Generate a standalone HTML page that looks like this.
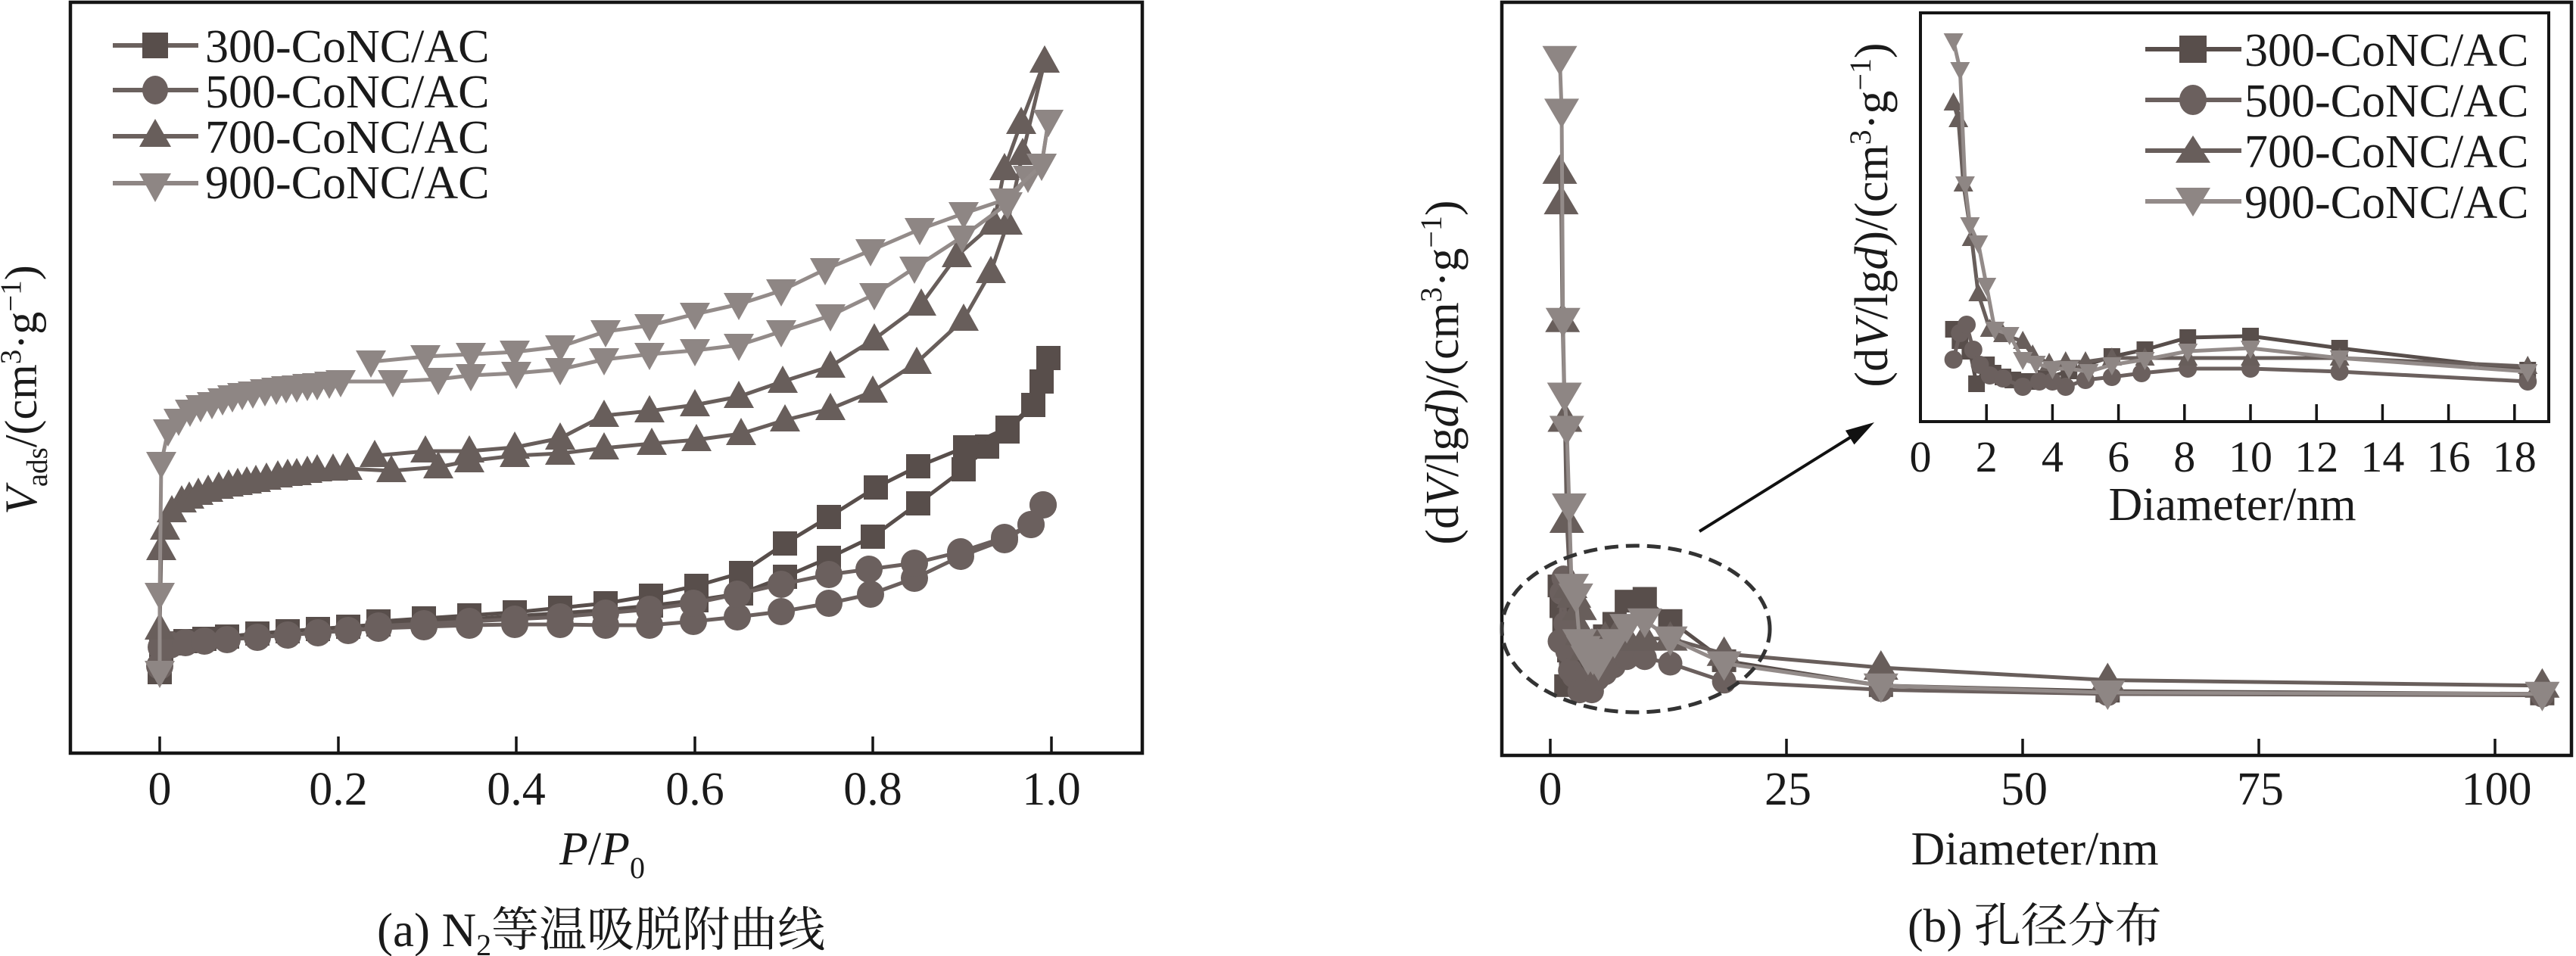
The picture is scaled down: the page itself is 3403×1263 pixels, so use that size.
<!DOCTYPE html>
<html><head><meta charset="utf-8"><style>
html,body{margin:0;padding:0;background:#fff;}
svg{display:block;}
text{font-family:"Liberation Serif","Noto Serif CJK SC",serif;fill:#1a1a1a;}
</style></head><body>
<svg width="3403" height="1263" viewBox="0 0 3403 1263" xmlns="http://www.w3.org/2000/svg">
<defs>
<!-- left plot markers -->
<marker id="Lsq" markerUnits="userSpaceOnUse" markerWidth="100" markerHeight="100" refX="50" refY="50"><rect x="34" y="34" width="32" height="32" fill="#584e4b"/></marker>
<marker id="Lci" markerUnits="userSpaceOnUse" markerWidth="100" markerHeight="100" refX="50" refY="50"><circle cx="50" cy="50" r="18" fill="#6b605e"/></marker>
<marker id="Ltu" markerUnits="userSpaceOnUse" markerWidth="100" markerHeight="100" refX="50" refY="50"><polygon points="50,29 70,65 30,65" fill="#685e5b"/></marker>
<marker id="Ltd" markerUnits="userSpaceOnUse" markerWidth="100" markerHeight="100" refX="50" refY="50"><polygon points="30,35 70,35 50,71" fill="#8e8684"/></marker>
<!-- main right markers -->
<marker id="Msq" markerUnits="userSpaceOnUse" markerWidth="100" markerHeight="100" refX="50" refY="50"><rect x="34" y="35" width="32" height="30" fill="#584e4b"/></marker>
<marker id="Mci" markerUnits="userSpaceOnUse" markerWidth="100" markerHeight="100" refX="50" refY="50"><circle cx="50" cy="50" r="16" fill="#6b605e"/></marker>
<marker id="Mtu" markerUnits="userSpaceOnUse" markerWidth="100" markerHeight="100" refX="50" refY="50"><polygon points="50,27 73,66 27,66" fill="#685e5b"/></marker>
<marker id="Mtd" markerUnits="userSpaceOnUse" markerWidth="100" markerHeight="100" refX="50" refY="50"><polygon points="27,34 73,34 50,73" fill="#8e8684"/></marker>
<!-- inset markers -->
<marker id="Isq" markerUnits="userSpaceOnUse" markerWidth="100" markerHeight="100" refX="50" refY="50"><rect x="39" y="39" width="22" height="22" fill="#584e4b"/></marker>
<marker id="Ici" markerUnits="userSpaceOnUse" markerWidth="100" markerHeight="100" refX="50" refY="50"><circle cx="50" cy="50" r="12" fill="#6b605e"/></marker>
<marker id="Itu" markerUnits="userSpaceOnUse" markerWidth="100" markerHeight="100" refX="50" refY="50"><polygon points="50,36 63,60 37,60" fill="#685e5b"/></marker>
<marker id="Itd" markerUnits="userSpaceOnUse" markerWidth="100" markerHeight="100" refX="50" refY="50"><polygon points="37,40 63,40 50,64" fill="#8e8684"/></marker>
<clipPath id="insetClip"><rect x="2539" y="19" width="826" height="536"/></clipPath>
</defs>

<!-- ================= LEFT PLOT ================= -->
<g fill="none" stroke-width="5" stroke-linejoin="round">
<g stroke="#584e4b" marker-start="url(#Lsq)" marker-mid="url(#Lsq)" marker-end="url(#Lsq)">
<polyline points="211,888 213,858 225,850 245,847 270,844 300,841 340,837 380,834 420,831 460,828 500,825 560,821 620,818 680,814 740,810 800,806 860,800 920,793 979,784 1037,762 1095,737 1153,709 1213,665 1273,620 1304,590 1331,570 1365,535 1376,504 1385,473"/>
<polyline points="1385,473 1376,504 1365,535 1331,565 1275,591 1213,616 1157,644 1095,683 1037,718 979,757 920,774 860,787 800,797 740,803 680,809 620,813 560,817 500,821"/>
</g>
<g stroke="#6b605e" marker-start="url(#Lci)" marker-mid="url(#Lci)" marker-end="url(#Lci)">
<polyline points="211,880 213,855 225,852 245,849 270,847 300,845 340,842 380,839 420,836 460,833 500,830 560,828 620,826 680,825 740,825 800,826 858,826 916,821 974,815 1032,808 1095,797 1150,785 1208,764 1269,735 1327,713 1362,693 1378,667"/>
<polyline points="1378,667 1362,693 1327,710 1269,729 1208,744 1148,752 1095,759 1032,772 974,785 916,797 858,805 800,810 740,815 680,818 620,821 560,824 500,827"/>
</g>
<g stroke="#685e5b" marker-start="url(#Ltu)" marker-mid="url(#Ltu)" marker-end="url(#Ltu)">
<polyline points="211,830 213,725 218,698 227,675 240,662 250,657 262,652 275,648 289,644 302,641 314,639 326,637 338,635 352,632 367,629 380,627 392,626 406,623 419,621 440,620 459,619 517,622 579,617 620,609 680,602 740,599 798,592 861,586 920,581 979,573 1037,555 1097,540 1153,517 1211,479 1273,422 1309,359 1331,295 1351,203 1380,81"/>
<polyline points="1380,81 1349,162 1327,223 1313,295 1264,338 1217,402 1155,448 1097,484 1034,504 976,524 918,535 858,543 798,549 740,579 680,591 620,596 562,596 495,602"/>
</g>
<g stroke="#938b89" marker-start="url(#Ltd)" marker-mid="url(#Ltd)" marker-end="url(#Ltd)">
<polyline points="211,888 211,785 213,612 222,569 236,555 251,543 265,537 280,533 294,528 307,524 320,521 334,519 350,516 365,514 378,512 392,511 406,509 419,508 435,506 450,504 519,504 579,501 622,496 682,493 740,488 798,475 858,468 918,463 976,456 1032,438 1097,417 1155,389 1208,354 1271,313 1331,269 1358,234 1376,218 1385,160"/>
<polyline points="1385,160 1376,218 1327,264 1273,282 1215,303 1150,331 1090,356 1032,384 976,402 918,415 858,430 800,438 740,458 680,465 622,468 562,471 490,478"/>
</g>
</g>

<!-- left frame -->
<rect x="93" y="3" width="1416" height="992" fill="none" stroke="#151515" stroke-width="4.5"/>
<g stroke="#151515" stroke-width="3.5">
<line x1="211" y1="995" x2="211" y2="973"/>
<line x1="447" y1="995" x2="447" y2="973"/>
<line x1="682" y1="995" x2="682" y2="973"/>
<line x1="918" y1="995" x2="918" y2="973"/>
<line x1="1153" y1="995" x2="1153" y2="973"/>
<line x1="1389" y1="995" x2="1389" y2="973"/>
</g>
<g font-size="62" text-anchor="middle">
<text x="211" y="1063">0</text>
<text x="447" y="1063">0.2</text>
<text x="682" y="1063">0.4</text>
<text x="918" y="1063">0.6</text>
<text x="1153" y="1063">0.8</text>
<text x="1389" y="1063">1.0</text>
</g>
<text x="739" y="1142" font-size="62"><tspan font-style="italic">P</tspan>/<tspan font-style="italic">P</tspan><tspan font-size="40" dy="18">0</tspan></text>
<text x="498" y="1250" font-size="63">(a) N<tspan font-size="40" dy="12">2</tspan><tspan dy="-12" font-family="Noto Serif CJK SC, serif">等温吸脱附曲线</tspan></text>

<!-- left y label -->
<text transform="translate(48,515) rotate(-90)" font-size="60" text-anchor="middle"><tspan font-style="italic">V</tspan><tspan font-size="39" dy="14">ads</tspan><tspan dy="-14">/(cm</tspan><tspan font-size="39" dy="-21">3</tspan><tspan dy="21">·g</tspan><tspan font-size="39" dy="-21">−1</tspan><tspan dy="21">)</tspan></text>

<!-- left legend -->
<g stroke-width="6">
<line x1="149" y1="60" x2="262" y2="60" stroke="#6b615e"/>
<line x1="149" y1="119" x2="262" y2="119" stroke="#6b615e"/>
<line x1="149" y1="180" x2="262" y2="180" stroke="#6b615e"/>
<line x1="149" y1="242" x2="262" y2="242" stroke="#8e8684"/>
</g>
<rect x="188" y="43" width="34" height="34" fill="#584e4b"/>
<ellipse cx="205" cy="119" rx="17" ry="19" fill="#6b605e"/>
<polygon points="205,157 226,194 184,194" fill="#685e5b"/>
<polygon points="184,229 226,229 205,267" fill="#8e8684"/>
<g font-size="62">
<text x="271" y="82">300-CoNC/AC</text>
<text x="271" y="142">500-CoNC/AC</text>
<text x="271" y="202">700-CoNC/AC</text>
<text x="271" y="262">900-CoNC/AC</text>
</g>

<!-- ================= RIGHT PLOT ================= -->
<g fill="none" stroke-width="5" stroke-linejoin="round">
<polyline stroke="#584e4b" marker-start="url(#Msq)" marker-mid="url(#Msq)" marker-end="url(#Msq)" points="2060.5,774.1 2063,801.5 2066.7,827.1 2069.2,905.8 2073,860.1 2075.5,880.2 2079.2,889.3 2082.9,896.7 2089.2,900.3 2095.4,893 2104.2,874.7 2120.4,839.9 2132.9,823.5 2149.1,794.2 2172.8,790.5 2206.5,819.8 2277.6,872.9 2484.8,905.8 2784.3,913.1 3358.4,916.8"/>
<polyline stroke="#6b605e" marker-start="url(#Mci)" marker-mid="url(#Mci)" marker-end="url(#Mci)" points="2060.5,847.3 2063,783.2 2065.5,763.1 2068,823.5 2070.5,860.1 2074.2,885.7 2079.2,893 2086.7,913.1 2092.9,900.3 2097.9,900.3 2102.9,913.1 2110.4,896.7 2120.4,889.3 2131.6,880.2 2149.1,869.2 2172.8,869.2 2206.5,876.5 2277.6,900.3 2484.8,911.3 2784.3,916.8 3358.4,918.6"/>
<polyline stroke="#685e5b" marker-start="url(#Mtu)" marker-mid="url(#Mtu)" marker-end="url(#Mtu)" points="2060.5,226.9 2062.4,267.1 2064.2,422.7 2067.3,554.5 2069.8,688 2074.2,774.1 2079.2,786.9 2086.7,803.3 2090.4,836.3 2096.7,856.4 2102.9,852.7 2110.4,852.7 2120.4,843.6 2132.9,843.6 2149.1,843.6 2172.8,843.6 2206.5,843.6 2277.6,863.7 2484.8,882 2784.3,898.5 3358.4,905.8"/>
<polyline stroke="#938b89" marker-start="url(#Mtd)" marker-mid="url(#Mtd)" marker-end="url(#Mtd)" points="2060.5,76.8 2063,146.4 2064.8,422.7 2066.7,521.5 2069.8,565.4 2073,667.9 2076.1,774.1 2081.7,786.9 2086.7,847.3 2091.7,856.4 2097.9,869.2 2104.2,869.2 2111.6,876.5 2120.4,860.1 2132.9,847.3 2149.1,827.1 2172.8,819.8 2206.5,843.6 2277.6,876.5 2484.8,905.8 2784.3,915 3358.4,916.8"/>
</g>

<!-- right frame -->
<rect x="1984" y="3" width="1413" height="995" fill="none" stroke="#151515" stroke-width="4.5"/>
<g stroke="#151515" stroke-width="3.5">
<line x1="2048" y1="998" x2="2048" y2="976"/>
<line x1="2360" y1="998" x2="2360" y2="976"/>
<line x1="2672" y1="998" x2="2672" y2="976"/>
<line x1="2984" y1="998" x2="2984" y2="976"/>
<line x1="3296" y1="998" x2="3296" y2="976"/>
</g>
<g font-size="62" text-anchor="middle">
<text x="2048" y="1063">0</text>
<text x="2362" y="1063">25</text>
<text x="2674" y="1063">50</text>
<text x="2986" y="1063">75</text>
<text x="3298" y="1063">100</text>
<text x="2688" y="1142">Diameter/nm</text>
</g>
<text x="2520" y="1244" font-size="62">(b) <tspan font-family="Noto Serif CJK SC, serif">孔径分布</tspan></text>

<!-- main y label -->
<text transform="translate(1926,492) rotate(-90)" font-size="62" text-anchor="middle">(d<tspan font-style="italic">V</tspan>/lg<tspan font-style="italic">d</tspan>)/(cm<tspan font-size="40" dy="-22">3</tspan><tspan dy="22">·g</tspan><tspan font-size="40" dy="-22">−1</tspan><tspan dy="22">)</tspan></text>

<!-- dashed ellipse & arrow -->
<ellipse cx="2161" cy="831" rx="177" ry="110" fill="none" stroke="#333" stroke-width="5" stroke-dasharray="18 10"/>
<line x1="2245" y1="702" x2="2444" y2="578" stroke="#111" stroke-width="4"/>
<polygon points="2476,558 2449.5,587.4 2443.7,578.1 2437.9,568.8" fill="#111"/>

<!-- inset -->
<rect x="2537" y="17" width="830" height="540" fill="#fff" stroke="#151515" stroke-width="4"/>
<g clip-path="url(#insetClip)" fill="none" stroke-width="5" stroke-linejoin="round">
<polyline stroke="#584e4b" marker-start="url(#Isq)" marker-mid="url(#Isq)" marker-end="url(#Isq)" points="2580.6,435 2589.3,450 2602.4,464 2611.1,507 2624.2,482 2632.9,493 2646,498 2659.1,502 2680.9,504 2702.7,500 2733.2,490 2789.9,471 2833.5,462 2890.2,446 2973,444 3090.7,460 3339.2,489"/>
<polyline stroke="#6b605e" marker-start="url(#Ici)" marker-mid="url(#Ici)" marker-end="url(#Ici)" points="2580.6,475 2589.3,440 2598,429 2606.8,462 2615.5,482 2628.6,496 2646,500 2672.2,511 2694,504 2711.4,504 2728.8,511 2755,502 2789.9,498 2829.1,493 2890.2,487 2973,487 3090.7,491 3339.2,504"/>
<polyline stroke="#685e5b" marker-start="url(#Itu)" marker-mid="url(#Itu)" marker-end="url(#Itu)" points="2580.6,136 2587.1,158 2593.7,243 2604.6,315 2613.3,388 2628.6,435 2646,442 2672.2,451 2685.2,469 2707,480 2728.8,478 2755,478 2789.9,473 2833.5,473 2890.2,473 2973,473 3090.7,473 3339.2,484"/>
<polyline stroke="#938b89" marker-start="url(#Itd)" marker-mid="url(#Itd)" marker-end="url(#Itd)" points="2580.6,54 2589.3,92 2595.9,243 2602.4,297 2613.3,321 2624.2,377 2635.1,435 2654.7,442 2672.2,475 2689.6,480 2711.4,487 2733.2,487 2759.4,491 2789.9,482 2833.5,475 2890.2,464 2973,460 3090.7,473 3339.2,491"/>
</g>
<rect x="2537" y="17" width="830" height="540" fill="none" stroke="#151515" stroke-width="4"/>
<g stroke="#151515" stroke-width="3.5">
<line x1="2624.2" y1="557" x2="2624.2" y2="534"/>
<line x1="2711.4" y1="557" x2="2711.4" y2="534"/>
<line x1="2798.6" y1="557" x2="2798.6" y2="534"/>
<line x1="2885.8" y1="557" x2="2885.8" y2="534"/>
<line x1="2973" y1="557" x2="2973" y2="534"/>
<line x1="3060.2" y1="557" x2="3060.2" y2="534"/>
<line x1="3147.4" y1="557" x2="3147.4" y2="534"/>
<line x1="3234.6" y1="557" x2="3234.6" y2="534"/>
<line x1="3321.8" y1="557" x2="3321.8" y2="534"/>
</g>
<g font-size="58" text-anchor="middle">
<text x="2537" y="623">0</text>
<text x="2624.2" y="623">2</text>
<text x="2711.4" y="623">4</text>
<text x="2798.6" y="623">6</text>
<text x="2885.8" y="623">8</text>
<text x="2973" y="623">10</text>
<text x="3060.2" y="623">12</text>
<text x="3147.4" y="623">14</text>
<text x="3234.6" y="623">16</text>
<text x="3321.8" y="623">18</text>
</g>
<text x="2949" y="687" font-size="62" text-anchor="middle">Diameter/nm</text>
<text transform="translate(2493,284) rotate(-90)" font-size="62" text-anchor="middle">(d<tspan font-style="italic">V</tspan>/lg<tspan font-style="italic">d</tspan>)/(cm<tspan font-size="40" dy="-22">3</tspan><tspan dy="22">·g</tspan><tspan font-size="40" dy="-22">−1</tspan><tspan dy="22">)</tspan></text>

<!-- inset legend -->
<g stroke-width="6">
<line x1="2834" y1="65" x2="2961" y2="65" stroke="#584e4b"/>
<line x1="2834" y1="132" x2="2961" y2="132" stroke="#6b605e"/>
<line x1="2834" y1="199" x2="2961" y2="199" stroke="#685e5b"/>
<line x1="2834" y1="266" x2="2961" y2="266" stroke="#938b89"/>
</g>
<rect x="2879" y="47" width="36" height="36" fill="#584e4b"/>
<ellipse cx="2897" cy="132" rx="18" ry="20" fill="#6b605e"/>
<polygon points="2897,179 2920,215 2874,215" fill="#685e5b"/>
<polygon points="2874,248 2920,248 2897,286" fill="#8e8684"/>
<g font-size="62">
<text x="2965" y="87">300-CoNC/AC</text>
<text x="2965" y="154">500-CoNC/AC</text>
<text x="2965" y="221">700-CoNC/AC</text>
<text x="2965" y="288">900-CoNC/AC</text>
</g>
</svg>
</body></html>
